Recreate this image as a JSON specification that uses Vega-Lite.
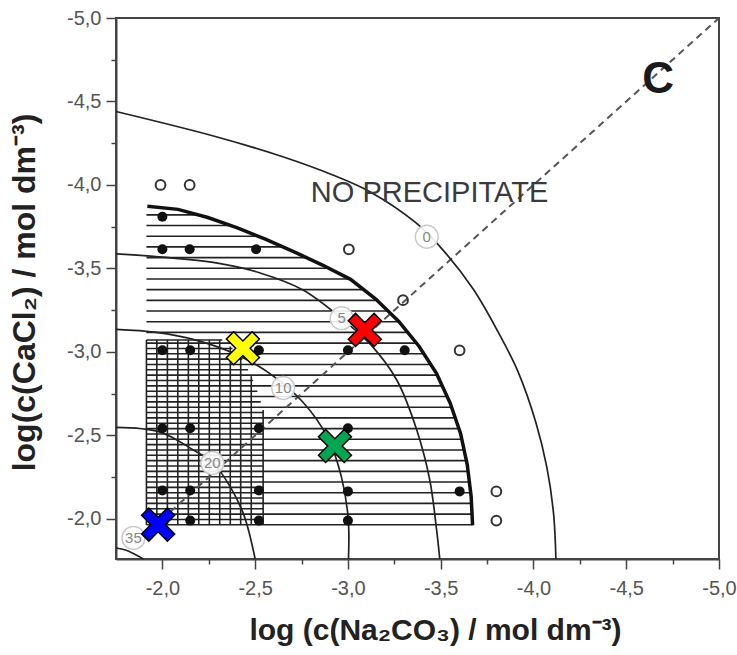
{
 "$schema": "https://vega.github.io/schema/vega-lite/v6.json",
 "width": 603, "height": 541,
 "autosize": {"type": "none"},
 "padding": {"left": 116, "top": 18, "right": 18, "bottom": 96},
 "background": "white",
 "config": {"view": {"stroke": "#444", "strokeWidth": 2}, "axis": {"grid": false, "labelFont": "Liberation Sans", "titleFont": "Liberation Sans"}},
 "datasets": {
  "hl": [
   {"y": -1.965, "x": -1.914, "x2": -3.70}, {"y": -2.029, "x": -1.914, "x2": -3.70}, {"y": -2.093, "x": -1.914, "x2": -3.70},
   {"y": -2.157, "x": -1.914, "x2": -3.70}, {"y": -2.221, "x": -1.914, "x2": -3.70}, {"y": -2.285, "x": -1.914, "x2": -3.70},
   {"y": -2.349, "x": -1.914, "x2": -3.70}, {"y": -2.413, "x": -1.914, "x2": -3.70}, {"y": -2.477, "x": -1.914, "x2": -3.70},
   {"y": -2.541, "x": -1.914, "x2": -3.70}, {"y": -2.605, "x": -1.914, "x2": -3.70}, {"y": -2.669, "x": -1.914, "x2": -3.70},
   {"y": -2.733, "x": -1.914, "x2": -3.70}, {"y": -2.797, "x": -1.914, "x2": -3.70}, {"y": -2.861, "x": -1.914, "x2": -3.70},
   {"y": -2.925, "x": -1.914, "x2": -3.70}, {"y": -2.989, "x": -1.914, "x2": -3.70}, {"y": -3.053, "x": -1.914, "x2": -3.70},
   {"y": -3.117, "x": -1.914, "x2": -3.70}, {"y": -3.181, "x": -1.914, "x2": -3.70}, {"y": -3.245, "x": -1.914, "x2": -3.70},
   {"y": -3.309, "x": -1.914, "x2": -3.70}, {"y": -3.373, "x": -1.914, "x2": -3.70}, {"y": -3.437, "x": -1.914, "x2": -3.70},
   {"y": -3.501, "x": -1.914, "x2": -3.70}, {"y": -3.565, "x": -1.914, "x2": -3.70}, {"y": -3.629, "x": -1.914, "x2": -3.70},
   {"y": -3.693, "x": -1.914, "x2": -3.70}, {"y": -3.757, "x": -1.914, "x2": -3.70}, {"y": -3.821, "x": -1.914, "x2": -3.70},
   {"y": -1.997, "x": -1.914, "x2": -2.543}, {"y": -2.061, "x": -1.914, "x2": -2.543}, {"y": -2.125, "x": -1.914, "x2": -2.543},
   {"y": -2.189, "x": -1.914, "x2": -2.543}, {"y": -2.253, "x": -1.914, "x2": -2.543}, {"y": -2.317, "x": -1.914, "x2": -2.543},
   {"y": -2.381, "x": -1.914, "x2": -2.543}, {"y": -2.445, "x": -1.914, "x2": -2.543}, {"y": -2.509, "x": -1.914, "x2": -2.543},
   {"y": -2.573, "x": -1.914, "x2": -2.543}, {"y": -2.637, "x": -1.914, "x2": -2.543}, {"y": -2.701, "x": -1.914, "x2": -2.530},
   {"y": -2.765, "x": -1.914, "x2": -2.512}, {"y": -2.829, "x": -1.914, "x2": -2.489}, {"y": -2.893, "x": -1.914, "x2": -2.462},
   {"y": -2.957, "x": -1.914, "x2": -2.431}, {"y": -3.021, "x": -1.914, "x2": -2.378}, {"y": -3.072, "x": -1.914, "x2": -2.323}
  ],
  "vl": [
   {"x": -1.914, "y": -1.965, "y2": -3.072}, {"x": -1.970, "y": -1.965, "y2": -3.072}, {"x": -2.027, "y": -1.965, "y2": -3.072},
   {"x": -2.083, "y": -1.965, "y2": -3.072}, {"x": -2.140, "y": -1.965, "y2": -3.072}, {"x": -2.196, "y": -1.965, "y2": -3.072},
   {"x": -2.253, "y": -1.965, "y2": -3.072}, {"x": -2.309, "y": -1.965, "y2": -3.072}, {"x": -2.366, "y": -1.965, "y2": -3.033},
   {"x": -2.422, "y": -1.965, "y2": -2.968}, {"x": -2.479, "y": -1.965, "y2": -2.855}, {"x": -2.543, "y": -1.965, "y2": -2.653}
  ],
  "thick": [
   {"o": 1, "x": -1.919, "y": -3.872}, {"o": 2, "x": -2.084, "y": -3.854}, {"o": 3, "x": -2.245, "y": -3.805},
   {"o": 4, "x": -2.401, "y": -3.744}, {"o": 5, "x": -2.555, "y": -3.676}, {"o": 6, "x": -2.707, "y": -3.601},
   {"o": 7, "x": -2.860, "y": -3.522}, {"o": 8, "x": -3.014, "y": -3.435}, {"o": 9, "x": -3.150, "y": -3.317},
   {"o": 10, "x": -3.274, "y": -3.183}, {"o": 11, "x": -3.384, "y": -3.033}, {"o": 12, "x": -3.478, "y": -2.870},
   {"o": 13, "x": -3.551, "y": -2.694}, {"o": 14, "x": -3.607, "y": -2.512}, {"o": 15, "x": -3.643, "y": -2.325},
   {"o": 16, "x": -3.664, "y": -2.136}, {"o": 17, "x": -3.672, "y": -1.962}
  ],
  "mask": [
   {"x": -1.919, "y": -3.872}, {"x": -2.084, "y": -3.854}, {"x": -2.245, "y": -3.805},
   {"x": -2.401, "y": -3.744}, {"x": -2.555, "y": -3.676}, {"x": -2.707, "y": -3.601},
   {"x": -2.860, "y": -3.522}, {"x": -3.014, "y": -3.435}, {"x": -3.150, "y": -3.317},
   {"x": -3.274, "y": -3.183}, {"x": -3.384, "y": -3.033}, {"x": -3.478, "y": -2.870},
   {"x": -3.551, "y": -2.694}, {"x": -3.607, "y": -2.512}, {"x": -3.643, "y": -2.325},
   {"x": -3.664, "y": -2.136}, {"x": -3.672, "y": -1.962}, {"x": -3.69, "y": -1.90}, {"x": -3.76, "y": -1.90}
  ],
  "curves": [
   {"c": "0", "o": 1, "x": -1.75, "y": -4.44}, {"c": "0", "o": 2, "x": -2.290, "y": -4.289}, {"c": "0", "o": 3, "x": -2.649, "y": -4.169},
   {"c": "0", "o": 4, "x": -2.918, "y": -4.060}, {"c": "0", "o": 5, "x": -3.118, "y": -3.960}, {"c": "0", "o": 6, "x": -3.369, "y": -3.771},
   {"c": "0", "o": 7, "x": -3.522, "y": -3.598}, {"c": "0", "o": 8, "x": -3.676, "y": -3.375}, {"c": "0", "o": 9, "x": -3.803, "y": -3.133},
   {"c": "0", "o": 10, "x": -3.916, "y": -2.884}, {"c": "0", "o": 11, "x": -4.013, "y": -2.578}, {"c": "0", "o": 12, "x": -4.072, "y": -2.310},
   {"c": "0", "o": 13, "x": -4.108, "y": -2.036}, {"c": "0", "o": 14, "x": -4.121, "y": -1.76},
   {"c": "5", "o": 1, "x": -1.75, "y": -3.587}, {"c": "5", "o": 2, "x": -1.918, "y": -3.575}, {"c": "5", "o": 3, "x": -2.290, "y": -3.533},
   {"c": "5", "o": 4, "x": -2.527, "y": -3.473}, {"c": "5", "o": 5, "x": -2.758, "y": -3.371}, {"c": "5", "o": 6, "x": -2.962, "y": -3.204},
   {"c": "5", "o": 7, "x": -3.124, "y": -3.042}, {"c": "5", "o": 8, "x": -3.263, "y": -2.832}, {"c": "5", "o": 9, "x": -3.371, "y": -2.533},
   {"c": "5", "o": 10, "x": -3.441, "y": -2.234}, {"c": "5", "o": 11, "x": -3.478, "y": -1.934}, {"c": "5", "o": 12, "x": -3.495, "y": -1.76},
   {"c": "10", "o": 1, "x": -1.75, "y": -3.135}, {"c": "10", "o": 2, "x": -1.967, "y": -3.117}, {"c": "10", "o": 3, "x": -2.181, "y": -3.071},
   {"c": "10", "o": 4, "x": -2.390, "y": -2.989}, {"c": "10", "o": 5, "x": -2.585, "y": -2.866}, {"c": "10", "o": 6, "x": -2.758, "y": -2.699},
   {"c": "10", "o": 7, "x": -2.889, "y": -2.491}, {"c": "10", "o": 8, "x": -2.965, "y": -2.252}, {"c": "10", "o": 9, "x": -3.002, "y": -1.994},
   {"c": "10", "o": 10, "x": -3.003, "y": -1.76},
   {"c": "20", "o": 1, "x": -1.75, "y": -2.548}, {"c": "20", "o": 2, "x": -1.984, "y": -2.521}, {"c": "20", "o": 3, "x": -2.167, "y": -2.413},
   {"c": "20", "o": 4, "x": -2.274, "y": -2.335}, {"c": "20", "o": 5, "x": -2.366, "y": -2.192}, {"c": "20", "o": 6, "x": -2.435, "y": -2.036},
   {"c": "20", "o": 7, "x": -2.468, "y": -1.916}, {"c": "20", "o": 8, "x": -2.5, "y": -1.76},
   {"c": "35", "o": 1, "x": -1.75, "y": -1.826}, {"c": "35", "o": 2, "x": -1.801, "y": -1.814}, {"c": "35", "o": 3, "x": -1.849, "y": -1.790},
   {"c": "35", "o": 4, "x": -1.898, "y": -1.76}
  ],
  "diag": [{"x": -1.85, "y": -1.85}, {"x": -5.0, "y": -5.0}],
  "labels": [
   {"t": "0", "x": -3.425, "y": -3.690}, {"t": "5", "x": -2.966, "y": -3.202}, {"t": "10", "x": -2.651, "y": -2.784},
   {"t": "20", "x": -2.269, "y": -2.335}, {"t": "35", "x": -1.844, "y": -1.886}
  ],
  "filled": [
   {"x": -2.0, "y": -3.81}, {"x": -2.0, "y": -3.615}, {"x": -2.147, "y": -3.615}, {"x": -2.505, "y": -3.615},
   {"x": -2.0, "y": -3.01}, {"x": -2.15, "y": -3.01}, {"x": -2.52, "y": -3.01}, {"x": -3.0, "y": -3.01}, {"x": -3.306, "y": -3.01},
   {"x": -2.0, "y": -2.543}, {"x": -2.15, "y": -2.543}, {"x": -2.52, "y": -2.543}, {"x": -3.0, "y": -2.543},
   {"x": -2.0, "y": -2.17}, {"x": -2.15, "y": -2.17}, {"x": -2.52, "y": -2.17}, {"x": -3.0, "y": -2.165}, {"x": -3.602, "y": -2.165},
   {"x": -2.0, "y": -1.99}, {"x": -2.15, "y": -1.99}, {"x": -2.52, "y": -1.99}, {"x": -3.0, "y": -1.99}
  ],
  "open": [
   {"x": -1.99, "y": -4.0}, {"x": -2.147, "y": -4.0}, {"x": -3.005, "y": -3.615}, {"x": -3.297, "y": -3.31},
   {"x": -3.602, "y": -3.01}, {"x": -3.8, "y": -2.165}, {"x": -3.8, "y": -1.99}
  ],
  "markers": [
   {"m": "red", "x": -3.091, "y": -3.132}, {"m": "yellow", "x": -2.434, "y": -3.022},
   {"m": "green", "x": -2.930, "y": -2.437}, {"m": "blue", "x": -1.977, "y": -1.966}
  ],
  "notes": [{"t": "NO PRECIPITATE", "x": -3.44, "y": -3.95}],
  "panel": [{"t": "C", "x": -4.672, "y": -4.629}]
 },
 "encoding": {
  "x": {"field": "x", "type": "quantitative",
   "scale": {"domain": [-5, -1.75], "reverse": true, "zero": false, "nice": false},
   "axis": {"values": [-2, -2.25, -2.5, -2.75, -3, -3.25, -3.5, -3.75, -4, -4.25, -4.5, -4.75, -5],
    "labelExpr": "abs(datum.value*2-round(datum.value*2))>0.01 ? '' : replace(replace(format(datum.value,'.1f'),'.',','),'−','-')",
    "tickSize": {"condition": {"test": "abs(datum.value*2-round(datum.value*2))>0.01", "value": 5}, "value": 10},
    "labelFontSize": 20, "labelColor": "#555", "labelPadding": 9, "labelFlush": false, "labelOverlap": false,
    "tickColor": "#444", "tickWidth": 1.5, "domainColor": "#444", "domainWidth": 2,
    "title": "log (c(Na₂CO₃) / mol dm⁻³)", "titleFontSize": 30, "titleFontWeight": "bold", "titleColor": "#222",
    "titleX": 319, "titleY": 80, "titleBaseline": "alphabetic", "titleAlign": "center"}},
  "y": {"field": "y", "type": "quantitative",
   "scale": {"domain": [-5, -1.76], "reverse": true, "zero": false, "nice": false},
   "axis": {"values": [-2, -2.25, -2.5, -2.75, -3, -3.25, -3.5, -3.75, -4, -4.25, -4.5, -4.75, -5],
    "labelExpr": "abs(datum.value*2-round(datum.value*2))>0.01 ? '' : replace(replace(format(datum.value,'.1f'),'.',','),'−','-')",
    "tickSize": {"condition": {"test": "abs(datum.value*2-round(datum.value*2))>0.01", "value": 5}, "value": 10},
    "labelFontSize": 20, "labelColor": "#555", "labelPadding": 5, "labelFlush": false, "labelOverlap": false,
    "tickColor": "#444", "tickWidth": 1.5, "domainColor": "#444", "domainWidth": 2,
    "title": "log(c(CaCl₂) / mol dm⁻³)", "titleFontSize": 32, "titleFontWeight": "bold", "titleColor": "#222",
    "titleAngle": 270, "titleX": -82, "titleY": 274, "titleBaseline": "alphabetic", "titleAlign": "center"}}
 },
 "layer": [
  {"data": {"name": "hl"}, "mark": {"type": "rule", "color": "#222", "strokeWidth": 1.6}, "encoding": {"x2": {"field": "x2"}}},
  {"data": {"name": "vl"}, "mark": {"type": "rule", "color": "#222", "strokeWidth": 1.6}, "encoding": {"y2": {"field": "y2"}}},
  {"data": {"name": "mask"}, "mark": {"type": "area", "color": "white", "opacity": 1}, "encoding": {"y2": {"datum": -3.95}}},
  {"data": {"name": "diag"}, "mark": {"type": "line", "color": "#555", "strokeWidth": 2, "strokeDash": [7, 5]}, "encoding": {}},
  {"data": {"name": "curves"}, "mark": {"type": "line", "color": "#222", "strokeWidth": 1.7, "interpolate": "catmull-rom"},
   "encoding": {"detail": {"field": "c"}, "order": {"field": "o"}}},
  {"data": {"name": "thick"}, "mark": {"type": "line", "color": "#111", "strokeWidth": 3.5}, "encoding": {"order": {"field": "o"}}},
  {"data": {"name": "labels"}, "mark": {"type": "point", "shape": "circle", "filled": true, "fill": "white", "fillOpacity": 0.9, "stroke": "#c8c8c8", "strokeWidth": 1.5, "size": 520}, "encoding": {}},
  {"data": {"name": "labels"}, "mark": {"type": "text", "font": "Liberation Sans", "fontSize": 15, "color": "#888", "align": "center", "baseline": "middle"}, "encoding": {"text": {"field": "t"}}},
  {"data": {"name": "filled"}, "mark": {"type": "point", "shape": "circle", "filled": true, "color": "#111", "size": 100, "opacity": 1}, "encoding": {}},
  {"data": {"name": "open"}, "mark": {"type": "point", "shape": "circle", "filled": false, "color": "#333", "strokeWidth": 2, "size": 95, "opacity": 1}, "encoding": {}},
  {"data": {"name": "markers"}, "mark": {"type": "point", "shape": "M-1,-0.28H-0.28V-1H0.28V-0.28H1V0.28H0.28V1H-0.28V0.28H-1Z", "angle": 45, "filled": true, "size": 1330, "stroke": "#000", "strokeWidth": 1.5, "opacity": 1},
   "encoding": {"color": {"field": "m", "type": "nominal", "legend": null, "scale": {"domain": ["red", "yellow", "green", "blue"], "range": ["#ff0000", "#ffff00", "#00a651", "#0000ff"]}}}},
  {"data": {"name": "notes"}, "mark": {"type": "text", "font": "Liberation Sans", "fontSize": 29, "color": "#3a3a3a", "align": "center", "baseline": "middle"}, "encoding": {"text": {"field": "t"}}},
  {"data": {"name": "panel"}, "mark": {"type": "text", "font": "Liberation Sans", "fontSize": 44, "fontWeight": "bold", "color": "#1a1a1a", "align": "center", "baseline": "middle"}, "encoding": {"text": {"field": "t"}}}
 ]
}
